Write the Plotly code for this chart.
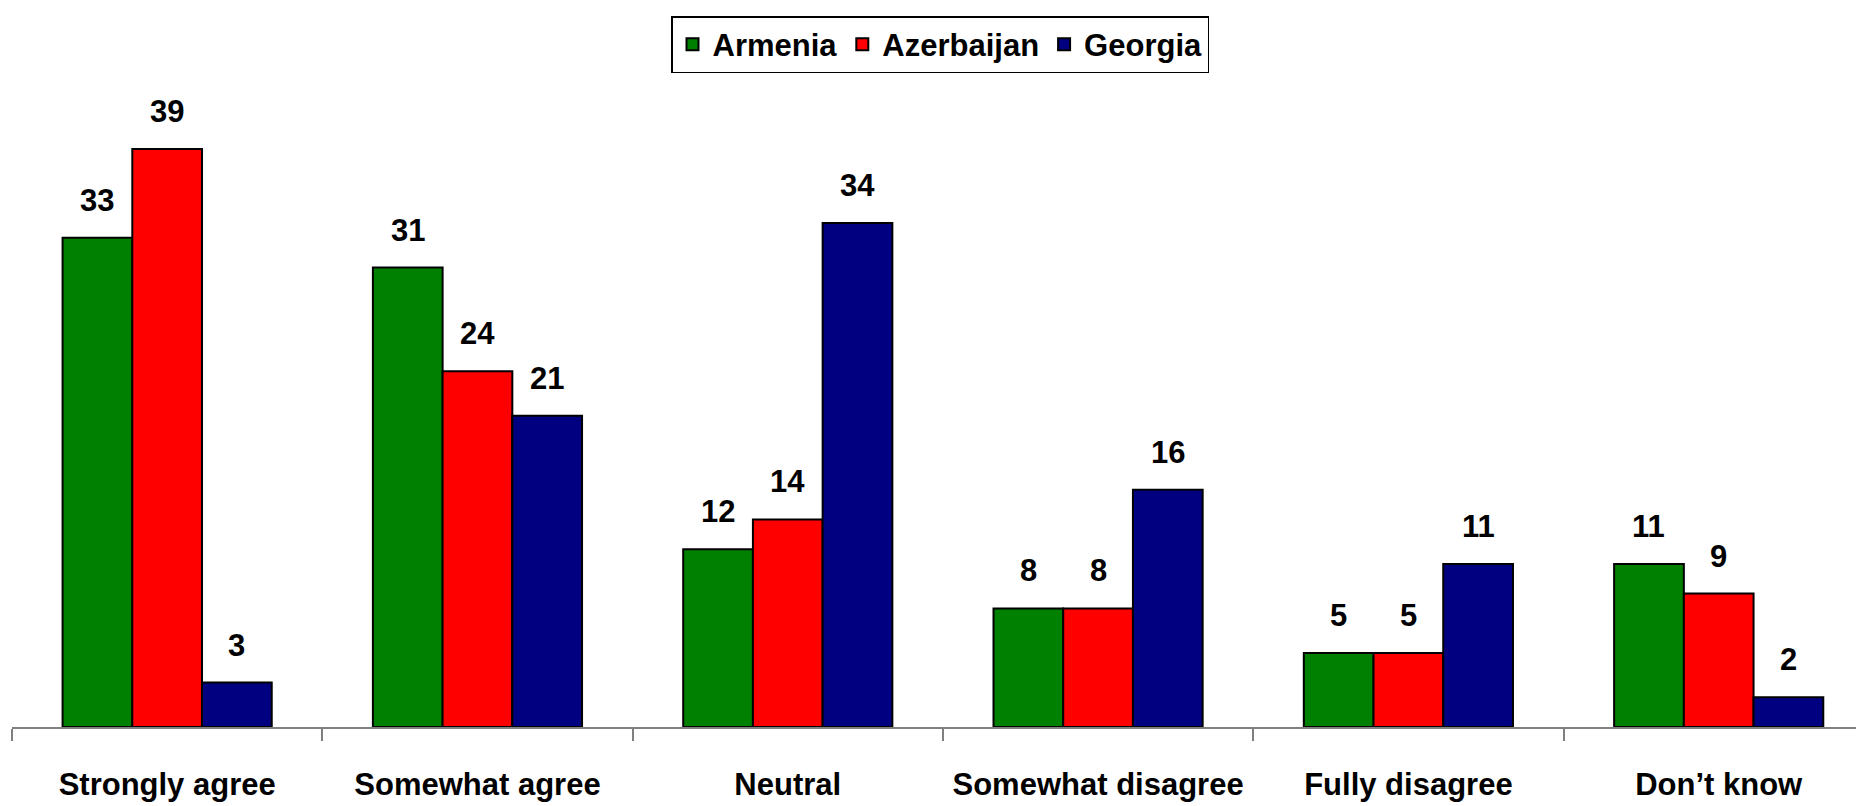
import plotly.graph_objects as go

categories = ["Strongly agree", "Somewhat agree", "Neutral",
              "Somewhat disagree", "Fully disagree", "Don\u2019t know"]
armenia = [33, 31, 12, 8, 5, 11]
azerbaijan = [39, 24, 14, 8, 5, 9]
georgia = [3, 21, 34, 16, 11, 2]

series = [("Armenia", armenia, "#008000"),
          ("Azerbaijan", azerbaijan, "#FF0000"),
          ("Georgia", georgia, "#000080")]

FONT = "Liberation Sans, Arial, sans-serif"
bargap = 0.326
bw = (1 - bargap) / 3

fig = go.Figure()
annotations = []
for i, (name, vals, col) in enumerate(series):
    fig.add_trace(go.Bar(
        x=categories, y=vals, name=name,
        marker=dict(color=col, line=dict(color="black", width=2)),
    ))
    # value labels above each bar
    for j, v in enumerate(vals):
        annotations.append(dict(
            x=j + (i - 1) * bw, y=v, text=str(v), showarrow=False,
            xref="x", yref="y", yanchor="bottom", yshift=18,
            font=dict(family=FONT, size=31, color="black", weight="bold"),
        ))

fig.update_layout(
    width=1864, height=806,
    barmode="group", bargap=bargap, bargroupgap=0,
    plot_bgcolor="white", paper_bgcolor="white",
    margin=dict(l=4, r=0, t=92, b=87),
    font=dict(family=FONT, size=31, color="black", weight="bold"),
    showlegend=True,
    legend=dict(
        orientation="h", xref="container", yref="container",
        x=0.5, xanchor="center", y=0.99, yanchor="top",
        bordercolor="black", borderwidth=1.5, bgcolor="white",
        font=dict(family=FONT, size=31, color="black", weight="bold"),
        itemwidth=30,
    ),
    annotations=annotations,
)
fig.update_xaxes(
    type="category", range=[-0.5, 5.494], automargin=False, tickangle=0,
    showline=True, linecolor="#808080", linewidth=1.5,
    ticks="outside", tickson="boundaries", ticklen=12, tickcolor="#808080",
    tickwidth=1.5, ticklabelstandoff=29, showgrid=False,
    tickfont=dict(family=FONT, size=31, color="black", weight="bold"),
)
fig.update_yaxes(range=[0, 42.3], visible=False, showgrid=False)

fig.write_html("out.html")
